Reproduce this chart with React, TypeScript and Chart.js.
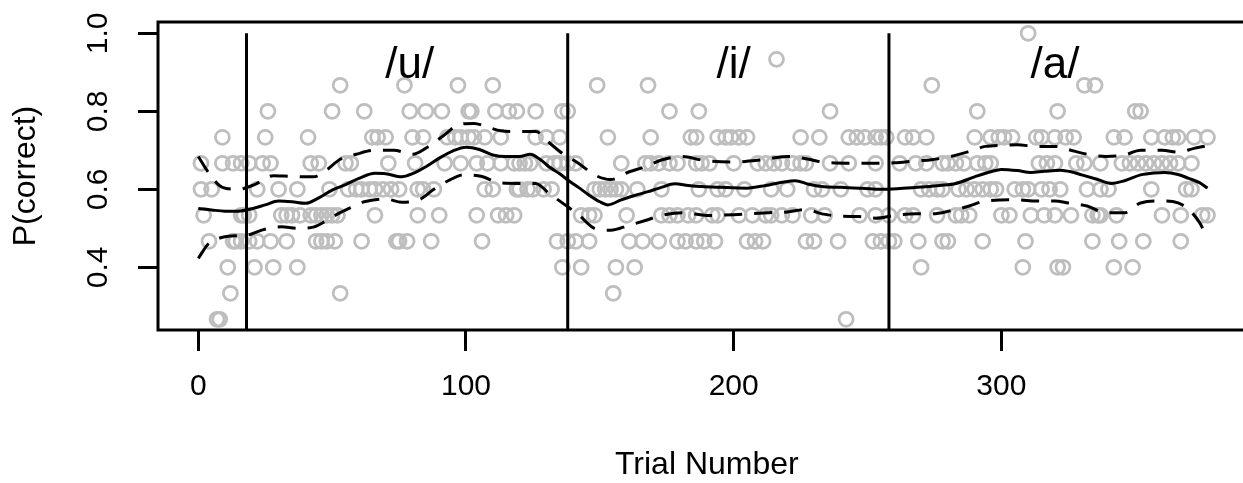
import React, { useEffect, useRef } from "react";
import { Chart, registerables } from "chart.js";

Chart.register(...registerables);

// ---- axis / annotation data ----
const xTicks = [0, 100, 200, 300];
const yTicks = [0.4, 0.6, 0.8, 1.0];
const blockBoundaries = [18, 138, 258];
const vowelLabels = ["/u/", "/i/", "/a/"];
const vowelLabelX = [79, 200, 320];
const vowelLabelY = 0.917;

// ---- observed proportions: trials at each P(correct) level ----
const trialsAt0267 = [7, 8, 242];
const trialsAt0333 = [12, 53, 155];
const trialsAt0400 = [11, 21, 28, 37, 136, 143, 156, 163, 270, 308, 321, 323, 342, 349];
const trialsAt0467 = [4, 13, 14, 16, 19, 22, 27, 33, 44, 46, 48, 51, 61, 74, 75, 78, 87, 106, 134, 138, 141, 146, 161, 166, 172, 179, 182, 186, 189, 193, 205, 208, 211, 227, 230, 239, 252, 255, 258, 260, 269, 278, 280, 293, 309, 334, 344, 353, 367];
const trialsAt0533 = [2, 16, 17, 19, 31, 33, 35, 38, 42, 44, 46, 48, 50, 52, 66, 82, 90, 104, 112, 115, 118, 143, 146, 148, 160, 173, 176, 179, 183, 186, 192, 194, 202, 207, 212, 214, 218, 222, 229, 234, 247, 253, 258, 264, 267, 276, 283, 285, 288, 300, 303, 311, 316, 320, 326, 334, 336, 337, 343, 360, 367, 375, 377];
const trialsAt0600 = [1, 5, 22, 30, 37, 49, 56, 59, 61, 64, 66, 69, 72, 75, 82, 84, 88, 107, 110, 119, 120, 123, 125, 129, 132, 148, 150, 152, 154, 156, 158, 164, 173, 187, 194, 197, 204, 214, 220, 230, 233, 240, 250, 253, 270, 273, 276, 278, 284, 287, 290, 293, 296, 298, 305, 308, 310, 315, 318, 322, 332, 337, 340, 356, 369, 371];
const trialsAt0667 = [1, 9, 13, 16, 19, 24, 27, 42, 45, 55, 57, 71, 81, 92, 98, 104, 108, 113, 118, 120, 122, 124, 130, 133, 135, 138, 141, 158, 167, 169, 172, 176, 179, 186, 188, 191, 200, 209, 212, 215, 218, 222, 225, 227, 236, 243, 253, 262, 268, 272, 278, 280, 283, 286, 291, 294, 296, 314, 317, 320, 328, 331, 337, 345, 348, 351, 354, 357, 360, 363, 366, 371];
const trialsAt0733 = [9, 25, 41, 65, 67, 70, 80, 84, 93, 96, 98, 101, 103, 107, 113, 126, 130, 135, 153, 169, 184, 186, 194, 197, 199, 202, 205, 225, 232, 243, 246, 249, 253, 255, 257, 264, 267, 272, 290, 296, 299, 301, 304, 313, 315, 320, 324, 327, 342, 346, 356, 361, 364, 366, 372, 377];
const trialsAt0800 = [26, 50, 62, 79, 85, 91, 101, 102, 111, 116, 119, 126, 136, 138, 176, 187, 236, 291, 321, 350, 352];
const trialsAt0867 = [53, 77, 97, 110, 149, 168, 274, 331, 335];
const trialsAt0933 = [216];
const trialsAt1000 = [310];

const levelValues = [0.2667, 0.3333, 0.4, 0.4667, 0.5333, 0.6, 0.6667, 0.7333, 0.8, 0.8667, 0.9333, 1.0];
const levelTrials = [trialsAt0267, trialsAt0333, trialsAt0400, trialsAt0467, trialsAt0533, trialsAt0600, trialsAt0667, trialsAt0733, trialsAt0800, trialsAt0867, trialsAt0933, trialsAt1000];

// ---- smoothed fit (solid) ----
const fitX = [0, 5, 10, 15, 20, 25, 30, 35, 40, 45, 50, 55, 60, 66, 70, 76, 80, 85, 90, 95, 100, 105, 110, 115, 120, 124, 128, 131, 135, 138, 142, 146, 150, 153, 158, 163, 168, 173, 178, 183, 188, 195, 205, 212, 218, 223, 228, 233, 240, 248, 255, 262, 270, 277, 283, 290, 296, 300, 306, 311, 316, 322, 326, 330, 336, 341, 346, 352, 357, 361, 366, 370, 374, 377];
const fitY = [0.551, 0.547, 0.544, 0.544, 0.55, 0.56, 0.57, 0.568, 0.564, 0.578, 0.598, 0.612, 0.628, 0.641, 0.64, 0.632, 0.64, 0.658, 0.68, 0.698, 0.708, 0.702, 0.688, 0.684, 0.684, 0.69, 0.675, 0.658, 0.64, 0.624, 0.605, 0.585, 0.568, 0.56, 0.573, 0.584, 0.594, 0.605, 0.614, 0.61, 0.607, 0.605, 0.603, 0.61, 0.618, 0.622, 0.613, 0.607, 0.605, 0.603, 0.6, 0.602, 0.606, 0.61, 0.615, 0.632, 0.645, 0.651, 0.648, 0.643, 0.646, 0.649, 0.645, 0.637, 0.625, 0.615, 0.622, 0.637, 0.642, 0.643, 0.638, 0.628, 0.617, 0.603];

// ---- upper band (dashed) ----
const upperX = [0, 4, 9, 15, 21, 28, 35, 43, 48, 53, 59, 66, 73, 80, 86, 92, 97, 103, 108, 113, 120, 126, 131, 136, 142, 148, 154, 161, 167, 173, 181, 188, 200, 210, 220, 228, 233, 245, 255, 260, 268, 274, 281, 288, 294, 300, 306, 313, 320, 325, 332, 339, 346, 352, 360, 366, 372, 377];
const upperY = [0.684, 0.641, 0.605, 0.6, 0.612, 0.635, 0.633, 0.632, 0.65, 0.677, 0.69, 0.7, 0.7, 0.69, 0.71, 0.74, 0.765, 0.769, 0.76, 0.75, 0.748, 0.748, 0.72, 0.692, 0.667, 0.637, 0.625, 0.645, 0.658, 0.675, 0.684, 0.675, 0.67, 0.675, 0.684, 0.677, 0.67, 0.667, 0.667, 0.668, 0.673, 0.676, 0.684, 0.697, 0.71, 0.713, 0.714, 0.71, 0.71, 0.702, 0.69, 0.684, 0.688, 0.7, 0.7, 0.695, 0.705, 0.712];

// ---- lower band (dashed) ----
const lowerX = [0, 4, 8, 12, 18, 24, 31, 37, 43, 48, 53, 57, 62, 70, 76, 83, 88, 94, 99, 106, 112, 120, 126, 131, 137, 142, 148, 154, 161, 167, 173, 181, 190, 200, 213, 220, 227, 233, 240, 247, 253, 260, 268, 274, 281, 288, 294, 306, 313, 320, 325, 332, 339, 346, 352, 360, 366, 370, 374, 377];
const lowerY = [0.423, 0.462, 0.475, 0.48, 0.482, 0.496, 0.504, 0.5, 0.503, 0.52, 0.54, 0.553, 0.568, 0.575, 0.567, 0.575, 0.6, 0.624, 0.637, 0.633, 0.617, 0.615, 0.615, 0.59, 0.56, 0.535, 0.5, 0.495, 0.508, 0.52, 0.533, 0.54, 0.533, 0.535, 0.54, 0.542, 0.548, 0.537, 0.531, 0.53, 0.526, 0.533, 0.537, 0.537, 0.545, 0.557, 0.57, 0.573, 0.57, 0.57, 0.565, 0.557, 0.54, 0.54, 0.565, 0.57, 0.565, 0.548, 0.515, 0.474];

const FONT = '"Liberation Sans", Arial, Helvetica, sans-serif';
const CANVAS_W = 1300;
const CANVAS_H = 483;
const LW = 3;

const framePlugin = {
  id: "frameAndLabels",
  afterDraw(chart: any) {
    const { ctx, chartArea: a, scales } = chart;
    ctx.save();
    ctx.strokeStyle = "#000";
    ctx.lineWidth = LW;
    ctx.strokeRect(a.left, a.top, a.right - a.left, a.bottom - a.top);
    ctx.fillStyle = "#000";
    ctx.font = `44px ${FONT}`;
    ctx.textAlign = "center";
    ctx.textBaseline = "middle";
    vowelLabels.forEach((t, i) => {
      ctx.fillText(t, scales.x.getPixelForValue(vowelLabelX[i]), scales.y.getPixelForValue(vowelLabelY));
    });
    ctx.restore();
  },
};

export default function App() {
  const ref = useRef<HTMLCanvasElement | null>(null);

  useEffect(() => {
    if (!ref.current) return;
    Chart.defaults.font.family = FONT;
    const points: { x: number; y: number }[] = [];
    levelTrials.forEach((trials, i) => trials.forEach((t) => points.push({ x: t, y: levelValues[i] })));
    const toXY = (xs: number[], ys: number[]) => xs.map((x, i) => ({ x, y: ys[i] }));

    const boundaryDatasets = blockBoundaries.map((b) => ({
      type: "line" as const,
      data: [
        { x: b, y: 1.0 },
        { x: b, y: 0.2 },
      ],
      borderColor: "#000",
      borderWidth: LW,
      pointRadius: 0,
      tension: 0,
    }));

    const chart = new Chart(ref.current, {
      type: "line",
      data: {
        datasets: [
          ...boundaryDatasets,
          {
            data: toXY(fitX, fitY),
            borderColor: "#000",
            borderWidth: LW,
            pointRadius: 0,
            cubicInterpolationMode: "monotone",
          },
          {
            data: toXY(upperX, upperY),
            borderColor: "#000",
            borderWidth: LW,
            borderDash: [18, 12],
            pointRadius: 0,
            cubicInterpolationMode: "monotone",
          },
          {
            data: toXY(lowerX, lowerY),
            borderColor: "#000",
            borderWidth: LW,
            borderDash: [18, 12],
            pointRadius: 0,
            cubicInterpolationMode: "monotone",
          },
          {
            data: points,
            showLine: false,
            pointStyle: "circle",
            pointRadius: 7,
            pointBorderWidth: 2.8,
            pointBorderColor: "#BEBEBE",
            pointBackgroundColor: "rgba(0,0,0,0)",
            borderColor: "#BEBEBE",
          },
        ] as any,
      },
      options: {
        responsive: false,
        animation: false,
        devicePixelRatio: 1,
        events: [],
        layout: { padding: { left: 0, top: 22, right: 44.3, bottom: 0 } },
        plugins: { legend: { display: false }, tooltip: { enabled: false } },
        scales: {
          x: {
            type: "linear",
            min: -15.05,
            max: 395,
            afterBuildTicks: (s: any) => {
              s.ticks = xTicks.map((v) => ({ value: v }));
            },
            afterFit: (s: any) => {
              s.height = 153;
              s.paddingLeft = 0;
              s.paddingRight = 0;
            },
            grid: { display: true, drawOnChartArea: false, drawTicks: true, tickLength: 21, color: "#000", lineWidth: LW },
            border: { display: false },
            ticks: {
              color: "#000",
              font: { size: 30, family: FONT },
              padding: 18,
              maxRotation: 0,
              autoSkip: false,
              callback: (v: any) => String(v),
            },
            title: {
              display: true,
              text: "Trial Number",
              color: "#000",
              font: { size: 32, lineHeight: 1.1, family: FONT },
              padding: { top: 0, bottom: 0 },
            },
          },
          y: {
            type: "linear",
            min: 0.2392,
            max: 1.029,
            afterBuildTicks: (s: any) => {
              s.ticks = yTicks.map((v) => ({ value: v }));
            },
            afterFit: (s: any) => {
              s.width = 158;
              s.paddingTop = 0;
              s.paddingBottom = 0;
            },
            grid: { display: true, drawOnChartArea: false, drawTicks: true, tickLength: 20, color: "#000", lineWidth: LW },
            border: { display: false },
            ticks: {
              color: "#000",
              font: { size: 30, family: FONT },
              padding: 18,
              minRotation: 90,
              maxRotation: 90,
              crossAlign: "center",
              autoSkip: false,
              callback: (v: any) => Number(v).toFixed(1),
            },
            title: {
              display: true,
              text: "P(correct)",
              color: "#000",
              font: { size: 32, lineHeight: 1.1, family: FONT },
              padding: { top: 8.4, bottom: 0 },
            },
          },
        },
      } as any,
      plugins: [framePlugin],
    });
    return () => chart.destroy();
  }, []);

  return (
    <div
      style={{
        position: "fixed",
        left: 0,
        top: 0,
        width: 1243,
        height: 483,
        overflow: "hidden",
        background: "#fff",
      }}
    >
      <canvas ref={ref} width={CANVAS_W} height={CANVAS_H} style={{ width: CANVAS_W, height: CANVAS_H, display: "block" }} />
    </div>
  );
}
